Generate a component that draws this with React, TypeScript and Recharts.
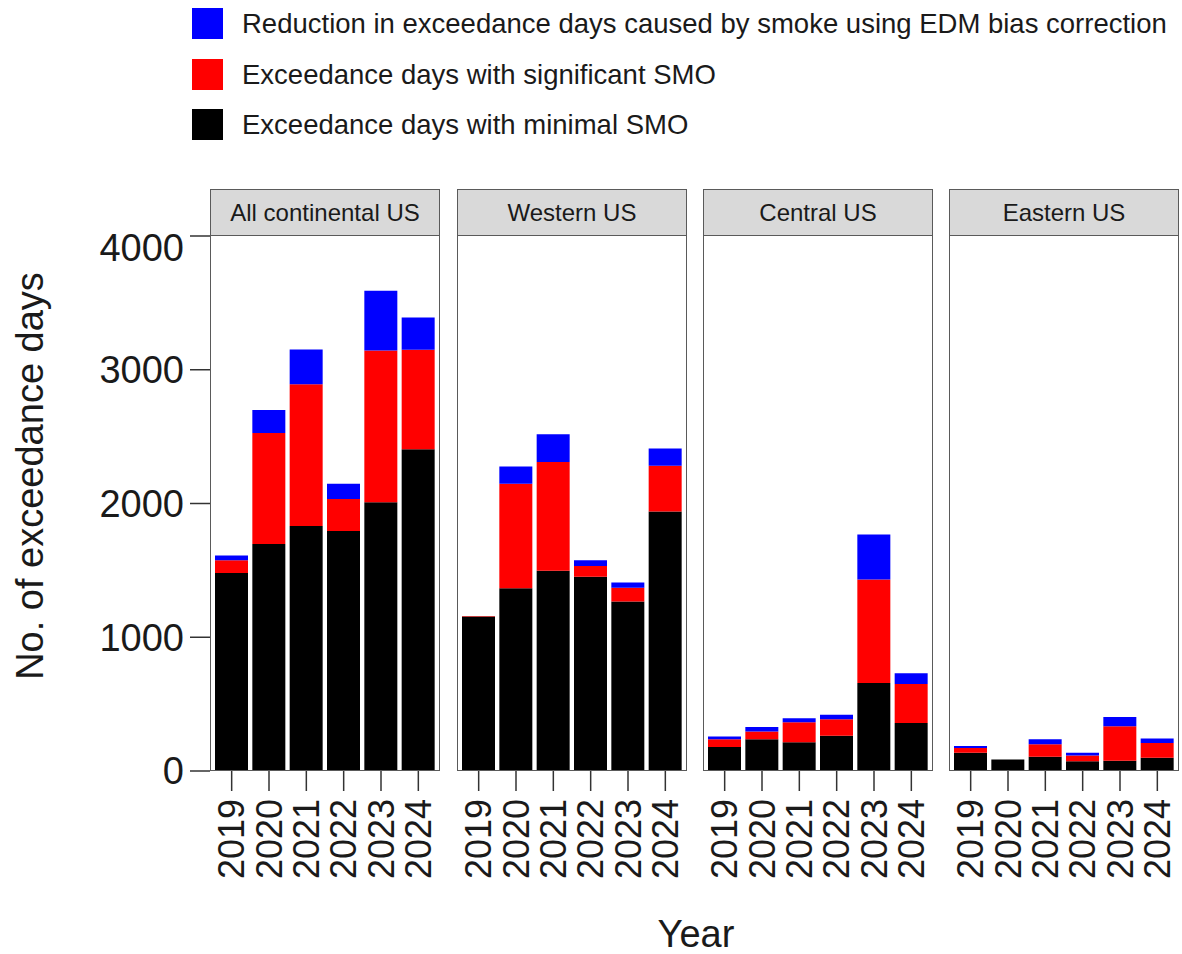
import React from 'react';
import { Bar, BarChart, XAxis, YAxis } from 'recharts';

const FONT = '"Liberation Sans", Arial, Helvetica, sans-serif';

const years = ['2019', '2020', '2021', '2022', '2023', '2024'];
const regions = ['All continental US', 'Western US', 'Central US', 'Eastern US'];
const yTicks = [0, 1000, 2000, 3000, 4000];

// stacked pieces, bottom to top
const allMinimal = [1480, 1698, 1832, 1795, 2010, 2405];
const allSignificant = [95, 830, 1060, 238, 1134, 744];
const allReduction = [37, 172, 260, 114, 446, 241];

const westMinimal = [1155, 1366, 1497, 1452, 1268, 1941];
const westSignificant = [4, 781, 813, 80, 103, 341];
const westReduction = [0, 129, 207, 43, 38, 129];

const centralMinimal = [180, 238, 215, 263, 658, 358];
const centralSignificant = [58, 57, 149, 124, 774, 292];
const centralReduction = [20, 34, 31, 34, 337, 80];

const eastMinimal = [137, 86, 106, 72, 77, 100];
const eastSignificant = [35, 0, 94, 43, 258, 109];
const eastReduction = [14, 0, 38, 22, 69, 34];

const series = [
  { key: 'reduction', label: 'Reduction in exceedance days caused by smoke using EDM bias correction', color: '#0000ff' },
  { key: 'significant', label: 'Exceedance days with significant SMO', color: '#ff0000' },
  { key: 'minimal', label: 'Exceedance days with minimal SMO', color: '#000000' },
];

const panelData = [
  [allMinimal, allSignificant, allReduction],
  [westMinimal, westSignificant, westReduction],
  [centralMinimal, centralSignificant, centralReduction],
  [eastMinimal, eastSignificant, eastReduction],
];

const PANEL_X = [210, 457, 703, 949];
const PANEL_W = 230;
const STRIP_TOP = 189;
const PLOT_TOP = 236;
const PLOT_H = 535;
const X_AXIS_H = 140;
const BORDER = '#5a5a5a';

const YearTick = (props: any) => {
  const { x, y, payload } = props;
  return (
    <text
      x={x}
      y={y + 6}
      transform={`rotate(-90, ${x}, ${y + 6})`}
      textAnchor="end"
      dominantBaseline="central"
      fontSize={36}
      fontFamily={FONT}
      fill="#1a1a1a"
    >
      {payload.value}
    </text>
  );
};

function Panel({ idx }: { idx: number }) {
  const [minimal, significant, reduction] = panelData[idx];
  const data = years.map((year, i) => ({
    year,
    minimal: minimal[i],
    significant: significant[i],
    reduction: reduction[i],
  }));
  const first = idx === 0;
  const left = PANEL_X[idx];
  const yAxisW = first ? left : 0;
  return (
    <>
      <div
        style={{
          position: 'absolute',
          left,
          top: STRIP_TOP,
          width: PANEL_W,
          height: PLOT_TOP - STRIP_TOP,
          boxSizing: 'border-box',
          background: '#d9d9d9',
          border: `1.5px solid ${BORDER}`,
          display: 'flex',
          alignItems: 'center',
          justifyContent: 'center',
          fontSize: 24,
          color: '#1a1a1a',
        }}
      >
        {regions[idx]}
      </div>
      <div style={{ position: 'absolute', left: left - yAxisW, top: PLOT_TOP - 10 }}>
        <BarChart
          width={yAxisW + PANEL_W}
          height={10 + PLOT_H + X_AXIS_H}
          data={data}
          margin={{ top: 10, right: 0, left: 0, bottom: 0 }}
          barCategoryGap={2}
        >
          <XAxis
            dataKey="year"
            height={X_AXIS_H}
            padding={{ left: 3, right: 3 }}
            axisLine={false}
            tickLine={{ stroke: '#333', strokeWidth: 1.5 }}
            tickSize={20}
            tick={<YearTick />}
            interval={0}
          />
          <YAxis
            hide={!first}
            width={yAxisW}
            domain={[0, 4000]}
            ticks={yTicks}
            allowDataOverflow
            axisLine={false}
            tickLine={{ stroke: '#333', strokeWidth: 1.5 }}
            tickSize={20}
            tickMargin={6}
            tick={{ fontSize: 38, fill: '#1a1a1a', fontFamily: FONT }}
          />
          <Bar dataKey="minimal" stackId="a" fill="#000000" isAnimationActive={false} />
          <Bar dataKey="significant" stackId="a" fill="#ff0000" isAnimationActive={false} />
          <Bar dataKey="reduction" stackId="a" fill="#0000ff" isAnimationActive={false} />
        </BarChart>
      </div>
      <div
        style={{
          position: 'absolute',
          left,
          top: PLOT_TOP - 1,
          width: PANEL_W,
          height: PLOT_H + 1,
          boxSizing: 'border-box',
          border: `1.5px solid ${BORDER}`,
          pointerEvents: 'none',
        }}
      />
    </>
  );
}

export default function App() {
  return (
    <div
      style={{
        position: 'relative',
        width: 1182,
        height: 954,
        background: '#fff',
        fontFamily: FONT,
        overflow: 'hidden',
      }}
    >
      <style>{'body{margin:0}'}</style>
      {/* legend */}
      {series.map((s, i) => (
        <div key={s.key}>
          <div
            style={{
              position: 'absolute',
              left: 192,
              top: 8 + i * 50.5,
              width: 31,
              height: 31,
              background: s.color,
            }}
          />
          <div
            style={{
              position: 'absolute',
              left: 242,
              top: 24 + i * 50.5,
              transform: 'translateY(-50%)',
              fontSize: 27.5,
              lineHeight: 1,
              whiteSpace: 'nowrap',
              color: '#1a1a1a',
            }}
          >
            {s.label}
          </div>
        </div>
      ))}
      {regions.map((_, i) => (
        <Panel key={i} idx={i} />
      ))}
      <div
        style={{
          position: 'absolute',
          left: 30,
          top: 476,
          transform: 'translate(-50%, -50%) rotate(-90deg)',
          fontSize: 38,
          lineHeight: 1,
          whiteSpace: 'nowrap',
          color: '#1a1a1a',
        }}
      >
        No. of exceedance days
      </div>
      <div
        style={{
          position: 'absolute',
          left: 696,
          top: 934,
          transform: 'translate(-50%, -50%)',
          fontSize: 38,
          lineHeight: 1,
          whiteSpace: 'nowrap',
          color: '#1a1a1a',
        }}
      >
        Year
      </div>
    </div>
  );
}
